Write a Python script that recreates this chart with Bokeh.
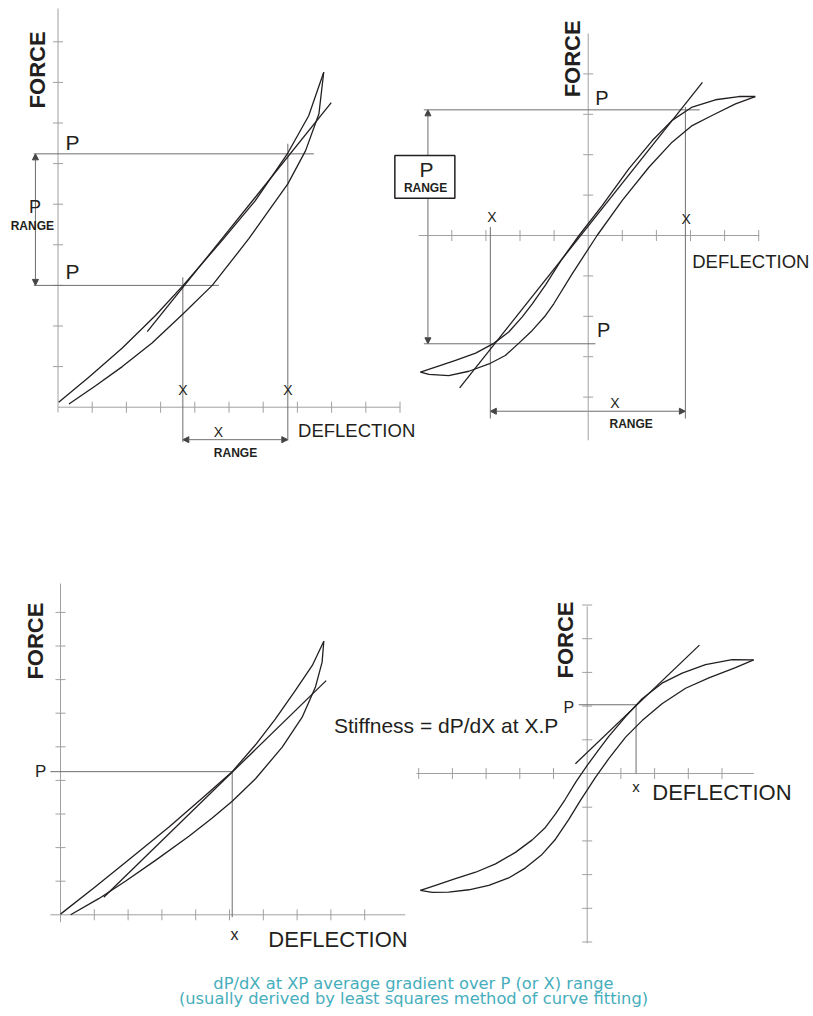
import math
from bokeh.plotting import figure
from bokeh.models import Range1d, Arrow, NormalHead
from bokeh.core.properties import value
from bokeh.embed import file_html
from bokeh.resources import INLINE

# ---------------- data (local units: deflection / force) ----------------
# Panel A : top-left, non-linear loop with secant over P range
A_up_x = [0.02, 0.90, 1.88, 2.85, 3.66, 4.80, 5.77, 6.72, 7.33, 7.77]
A_up_y = [0.12, 0.74, 1.46, 2.26, 3.00, 4.11, 5.09, 6.26, 7.18, 8.25]
A_lo_x = [0.32, 1.10, 1.88, 2.75, 3.66, 4.51, 5.58, 6.72, 7.24, 7.63, 7.77]
A_lo_y = [0.08, 0.53, 1.00, 1.58, 2.30, 3.00, 4.15, 5.50, 6.32, 7.23, 8.25]
A_sec_x = [2.61, 7.99]
A_sec_y = [1.86, 7.50]
A_P = [3.00, 6.24]
A_X = [3.65, 6.72]

# Panel B : top-right, S-shaped loop with secant over P range
B_up_x = [-4.92, -4.48, -3.89, -3.30, -2.77, -2.33, -1.94, -1.64, -1.25, -0.80, -0.27, 0.41, 1.19, 1.88, 2.46, 3.05, 3.73, 4.42, 4.90]
B_up_y = [-3.38, -3.26, -3.09, -2.91, -2.67, -2.39, -2.02, -1.69, -1.22, -0.62, 0.00, 0.74, 1.65, 2.35, 2.85, 3.18, 3.36, 3.44, 3.44]
B_lo_x = [4.90, 4.32, 3.63, 3.05, 2.46, 1.78, 1.00, 0.26, -0.47, -1.01, -1.25, -1.64, -2.04, -2.43, -2.91, -3.50, -4.09, -4.67, -4.92]
B_lo_y = [3.44, 3.26, 2.97, 2.72, 2.31, 1.69, 0.87, 0.00, -0.95, -1.69, -1.98, -2.35, -2.67, -2.97, -3.18, -3.36, -3.47, -3.44, -3.38]
B_sec_x = [-3.77, 3.35]
B_sec_y = [-3.77, 3.79]
B_P = [-2.68, 3.11]
B_X = [-2.87, 2.85]

# Panel C : bottom-left, non-linear loop with tangent at P
C_up_x = [0.00, 1.04, 2.12, 3.21, 4.19, 5.08, 5.77, 6.36, 6.95, 7.45, 7.79]
C_up_y = [0.02, 0.84, 1.72, 2.61, 3.47, 4.26, 5.06, 5.83, 6.68, 7.42, 8.14]
C_lo_x = [0.30, 1.13, 1.92, 2.81, 3.80, 4.49, 5.08, 5.77, 6.56, 7.15, 7.54, 7.74, 7.79]
C_lo_y = [0.00, 0.48, 1.00, 1.62, 2.34, 2.88, 3.38, 4.05, 4.99, 5.88, 6.77, 7.52, 8.14]
C_tan_x = [1.28, 7.86]
C_tan_y = [0.52, 6.97]
C_P = [4.26]
C_X = [5.08]

# Panel D : bottom-right, S-shaped loop with tangent at P
D_up_x = [-4.95, -4.50, -3.91, -3.31, -2.72, -2.13, -1.63, -1.24, -0.94, -0.66, -0.33, 0.00, 0.30, 0.64, 1.14, 1.63, 2.22, 2.82, 3.51, 4.30, 4.94]
D_up_y = [-3.47, -3.32, -3.12, -2.93, -2.68, -2.34, -1.97, -1.60, -1.20, -0.78, -0.24, 0.24, 0.65, 1.10, 1.69, 2.22, 2.68, 2.98, 3.23, 3.38, 3.37]
D_lo_x = [4.94, 4.40, 3.61, 2.92, 2.22, 1.63, 1.14, 0.64, 0.25, -0.20, -0.55, -0.94, -1.34, -1.83, -2.33, -2.92, -3.51, -4.11, -4.60, -4.95]
D_lo_y = [3.37, 3.14, 2.84, 2.53, 2.07, 1.57, 1.08, 0.44, -0.11, -0.80, -1.37, -1.95, -2.40, -2.80, -3.10, -3.32, -3.45, -3.52, -3.53, -3.47]
D_tan_x = [-0.35, 3.33]
D_tan_y = [0.29, 3.81]
D_P = [2.04]
D_X = [1.45]

# axis ticks
A_xticks = [1, 2, 3, 4, 5, 6, 7, 8, 9, 10]
A_yticks = [1, 2, 3, 4, 5, 6, 7, 8, 9]
B_xticks = [-4, -3, -2, -1, 1, 2, 3, 4, 5]
B_yticks = [-4, -3, -2, -1, 1, 2, 3, 4]
C_xticks = [1, 2, 3, 4, 5, 6, 7, 8, 9]
C_yticks = [1, 2, 3, 4, 5, 6, 7, 8, 9]
D_xticks = [-5, -4, -3, -2, -1, 1, 2, 3, 4]
D_yticks = [-5, -4, -3, -2, -1, 1, 2, 3, 4, 5]

CAPTION = ["dP/dX at XP average gradient over P (or X) range",
           "(usually derived by least squares method of curve fitting)"]

# ---------------- layout / style ----------------
W, H = 813, 1016
OFF = 0
INK = "#231f20"
GUIDE = "#6e6e6e"
AXIS = "#a0a0a0"
TEAL = "#46aebc"
SANS = "Liberation Sans"
BASE_SHIFT = 0.37   # em, lifts glyphs so the anchor sits on the baseline

# panel origin (page px) and unit size (px per unit)
LAYOUT = {
    "A": (57.5, 406.7, 34.2, 40.6),
    "B": (587.7, 235.0, 34.1, 40.4),
    "C": (60.0, 914.3, 33.8, 33.6),
    "D": (586.7, 773.0, 33.7, 33.7),
}

p = figure(width=W, height=H, x_range=Range1d(OFF, OFF + W), y_range=Range1d(OFF + H, OFF),
           output_backend="svg", toolbar_location=None, min_border=0,
           x_axis_type=None, y_axis_type=None)
p.outline_line_color = None
p.background_fill_color = "white"

for k, (ox, oy, ux, uy) in LAYOUT.items():
    p.extra_x_ranges[k] = Range1d((OFF - ox) / ux, (OFF + W - ox) / ux)
    p.extra_y_ranges[k] = Range1d((oy - (OFF + H)) / uy, (oy - OFF) / uy)


def R(k):
    return dict(x_range_name=k, y_range_name=k)


def axes(k, xext, yext, xt, yt):
    p.segment(x0=[xext[0], 0], y0=[0, yext[0]], x1=[xext[1], 0], y1=[0, yext[1]],
              line_color=AXIS, line_width=1, **R(k))
    p.scatter(x=xt, y=[0] * len(xt), marker="dash", size=11, angle=math.pi / 2,
              line_color=AXIS, line_width=1, **R(k))
    p.scatter(x=[0] * len(yt), y=yt, marker="dash", size=10,
              line_color=AXIS, line_width=1, **R(k))


def guides(k, x0, y0, x1, y1):
    p.segment(x0=x0, y0=y0, x1=x1, y1=y1, line_color=GUIDE, line_width=1, **R(k))


def curves(k, xs_list, ys_list, width=1.3):
    p.multi_line(xs=xs_list, ys=ys_list, line_color=INK, line_width=width,
                 line_join="round", **R(k))


def label(k, xs, ys, texts, size, font=SANS, align="left", style="normal", angle=0.0,
          color=INK, rng=True):
    shift = BASE_SHIFT * size
    xo, yo = (-shift, 0) if angle else (0, -shift)
    extra = R(k) if rng else {}
    p.text(x=xs, y=ys, text=texts, text_font=value(font), text_font_size=f"{size}px",
           text_font_style=style, text_align=align, text_baseline="alphabetic",
           x_offset=xo, y_offset=yo, angle=angle, text_color=color, **extra)


def arrow(k, xs, ys, xe, ye):
    hd = dict(size=6, fill_color="#444444", line_color="#444444", line_width=1)
    p.add_layout(Arrow(x_start=xs, y_start=ys, x_end=xe, y_end=ye,
                       start=NormalHead(**hd), end=NormalHead(**hd),
                       line_color=GUIDE, line_width=1, level="underlay", **R(k)))


# ---------- Panel A ----------
axes("A", (0, 10.01), (-0.13, 9.82), A_xticks, A_yticks)
guides("A", [-0.71, -0.71, A_X[0], A_X[1]], [A_P[1], A_P[0], 3.20, 6.49],
       [7.48, 4.70, A_X[0], A_X[1]], [A_P[1], A_P[0], -0.86, -0.82])
arrow("A", -0.66, A_P[1], -0.66, A_P[0])
arrow("A", A_X[0], -0.80, A_X[1], -0.80)
curves("A", [A_up_x, A_lo_x, A_sec_x], [A_up_y, A_lo_y, A_sec_y])
label("A", [0.22, 0.22], [6.32, 3.16], ["P", "P"], 21)
label("A", [-0.67], [4.77], ["P"], 18, align="center")
label("A", [-0.75, 5.19], [4.35, -1.24], ["RANGE", "RANGE"], 12, align="center", style="bold")
label("A", [A_X[0], A_X[1], 4.69], [0.29, 0.29, -0.75], ["X", "X", "X"], 14, align="center")
label("A", [7.02], [-0.75], ["DEFLECTION"], 18.5)
label("A", [-0.37], [7.36], ["FORCE"], 22, style="bold", angle=math.pi / 2)

# ---------- Panel B ----------
axes("B", (-4.97, 5.02), (-5.07, 5.0), B_xticks, B_yticks)
guides("B", [-4.82, -4.82, B_X[0], B_X[1]], [B_P[1], B_P[0], 0.21, 3.18],
       [3.27, 0.21, B_X[0], B_X[1]], [B_P[1], B_P[0], -4.53, -4.53])
arrow("B", -4.70, B_P[1], -4.70, B_P[0])
arrow("B", B_X[0], -4.35, B_X[1], -4.35)
curves("B", [B_up_x, B_lo_x, B_sec_x], [B_up_y, B_lo_y, B_sec_y])
p.quad(left=[-5.67], right=[-3.91], bottom=[0.92], top=[1.98], fill_color="white",
       line_color=INK, line_width=1.5, **R("B"))
label("B", [0.21, 0.26], [3.22, -2.52], ["P", "P"], 20)
label("B", [-4.74], [1.44], ["P"], 21, align="center")
label("B", [-4.77, 1.26], [1.07, -4.78], ["RANGE", "RANGE"], 12, align="center", style="bold")
label("B", [B_X[0] + 0.05, B_X[1] + 0.02, 0.78], [0.32, 0.27, -4.28], ["X", "X", "X"], 14, align="center")
label("B", [3.05], [-0.82], ["DEFLECTION"], 18.5)
label("B", [-0.23], [3.42], ["FORCE"], 22, style="bold", angle=math.pi / 2)

# ---------- Panel C ----------
axes("C", (-0.30, 10.2), (-0.22, 9.86), C_xticks, C_yticks)
guides("C", [-0.30, C_X[0]], [C_P[0], C_P[0]], [C_X[0], C_X[0]], [C_P[0], -0.07])
curves("C", [C_up_x, C_lo_x, C_tan_x], [C_up_y, C_lo_y, C_tan_y])
label("C", [-0.59], [4.09], ["P"], 17, align="center")
label("C", [5.15], [-0.76], ["x"], 16, align="center")
label("C", [6.15], [-0.97], ["DEFLECTION"], 22)
label("C", [-0.50], [7.0], ["FORCE"], 22, style="bold", angle=math.pi / 2)
label("C", [8.09], [5.40], ["Stiffness = dP/dX at X.P"], 21)

# ---------- Panel D ----------
axes("D", (-5.07, 4.95), (-5.04, 4.96), D_xticks, D_yticks)
guides("D", [-0.25, D_X[0]], [D_P[0], D_P[0]], [D_X[0], D_X[0]], [D_P[0], 0.0])
curves("D", [D_up_x, D_lo_x, D_tan_x], [D_up_y, D_lo_y, D_tan_y])
label("D", [-0.70], [1.79], ["P"], 16)
label("D", [D_X[0]], [-0.56], ["x"], 15, align="center")
label("D", [1.93], [-0.80], ["DEFLECTION"], 22)
label("D", [-0.40], [2.82], ["FORCE"], 22, style="bold", angle=math.pi / 2)

# ---------- caption ----------
label(None, [413, 413], [989, 1004], CAPTION, 16.3, font="DejaVu Sans", align="center",
      color=TEAL, rng=False)

open("out.html", "w").write(file_html(p, INLINE))
